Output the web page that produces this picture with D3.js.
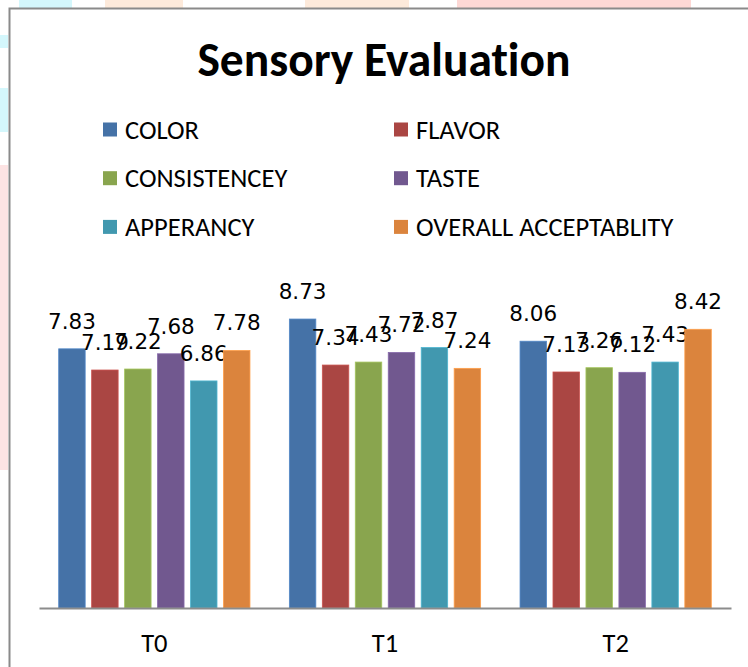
<!DOCTYPE html>
<html>
<head>
<meta charset="utf-8">
<script src="https://cdn.jsdelivr.net/npm/d3@7"></script>
<style>
  body { margin: 0; background: #fff; }
  svg { display: block; }
  text { font-variant-ligatures: none; }
</style>
</head>
<body>
<div id="root"></div>
<script>
const width = 748;
const height = 667;

const groups = ["T0", "T1", "T2"];
const series = ["COLOR", "FLAVOR", "CONSISTENCEY", "TASTE", "APPERANCY", "OVERALL ACCEPTABLITY"];
const colors = ["#4572A7", "#AA4643", "#89A54E", "#71588F", "#4198AF", "#DB843D"];

// one array per treatment, in the order of series
const t0Values = [7.83, 7.19, 7.22, 7.68, 6.86, 7.78];
const t1Values = [8.73, 7.34, 7.43, 7.72, 7.87, 7.24];
const t2Values = [8.06, 7.13, 7.26, 7.12, 7.43, 8.42];

const values = [t0Values, t1Values, t2Values];

const labelFont = "Carlito, Lato, 'Open Sans', sans-serif";

const svg = d3.select("#root").append("svg")
  .attr("width", width)
  .attr("height", height);

svg.append("rect").attr("width", width).attr("height", height).attr("fill", "#fff");

// faint page decoration behind the chart frame
const deco = [
  [19, 0, 53, 8, "#d4f7fc"], [105, 0, 78, 8, "#fdeadb"], [305, 0, 104, 8, "#fdeadb"],
  [457, 0, 234, 8, "#fdd8d5"], [0, 35, 8, 13, "#d4f7fc"], [0, 88, 8, 44, "#d4f7fc"],
  [0, 165, 8, 305, "#fde3e3"]
];
svg.selectAll("rect.deco")
  .data(deco)
  .enter()
  .append("rect")
  .attr("class", "deco")
  .attr("x", d => d[0]).attr("y", d => d[1])
  .attr("width", d => d[2]).attr("height", d => d[3])
  .attr("fill", d => d[4]);

// chart frame (left and top edges visible)
svg.append("path")
  .attr("d", "M9.5,667V8.5H748")
  .attr("fill", "none")
  .attr("stroke", "#8a8a8a")
  .attr("stroke-width", 2);

svg.append("text")
  .attr("x", 384)
  .attr("y", 76)
  .attr("text-anchor", "middle")
  .attr("font-family", labelFont)
  .attr("font-weight", "bold")
  .attr("font-size", "47.5px")
  .attr("fill", "#000")
  .text("Sensory Evaluation");

// legend: two columns, three rows
const legend = svg.append("g").attr("id", "legend");
const legendItems = legend.selectAll("g")
  .data(series)
  .enter()
  .append("g")
  .attr("transform", (d, i) => `translate(${i % 2 === 0 ? 103 : 394},${130 + Math.floor(i / 2) * 48.7})`);

legendItems.append("rect")
  .attr("x", 0)
  .attr("y", -7.5)
  .attr("width", 14)
  .attr("height", 14)
  .attr("fill", (d, i) => colors[i]);

legendItems.append("text")
  .attr("x", 22)
  .attr("y", 8.5)
  .attr("font-family", labelFont)
  .attr("font-size", "26.5px")
  .attr("fill", "#000")
  .text(d => d);

// scales
const x0 = d3.scaleBand()
  .domain(groups)
  .range([39, 731]);

const groupPad = 19.7;
const x1 = d3.scaleBand()
  .domain(series)
  .range([groupPad, x0.bandwidth() - groupPad])
  .paddingInner(0.197);

const y = d3.scaleLinear()
  .domain([0, 10])
  .range([608, 277]);

const color = d3.scaleOrdinal().domain(series).range(colors);

const groupG = svg.selectAll("g.group")
  .data(groups)
  .enter()
  .append("g")
  .attr("class", "group")
  .attr("transform", d => `translate(${x0(d)},0)`);

const cells = groupG.selectAll("g.cell")
  .data((g, gi) => series.map((s, si) => ({ s: s, v: values[gi][si] })))
  .enter()
  .append("g")
  .attr("class", "cell");

cells.append("rect")
  .attr("x", d => x1(d.s))
  .attr("y", d => y(d.v))
  .attr("width", x1.bandwidth())
  .attr("height", d => y(0) - y(d.v))
  .attr("fill", d => color(d.s))
  .attr("stroke", d => d3.color(color(d.s)).brighter(0.5))
  .attr("stroke-width", 0.8);

// value labels sit just above each bar (they overlap in the original too)
cells.append("text")
  .attr("x", d => x1(d.s) + x1.bandwidth() / 2)
  .attr("y", d => y(d.v) - 20)
  .attr("text-anchor", "middle")
  .attr("font-family", "'DejaVu Sans', sans-serif")
  .attr("font-size", "21.5px")
  .attr("fill", "#000")
  .text(d => d.v.toFixed(2));

// category axis
const xAxis = svg.append("g")
  .attr("transform", "translate(0,608)")
  .call(d3.axisBottom(x0).tickSize(0).tickPadding(25));

xAxis.select(".domain")
  .attr("stroke", "#8c8c8c")
  .attr("stroke-width", 2);

xAxis.selectAll("text")
  .attr("font-family", labelFont)
  .attr("font-size", "26.5px")
  .attr("fill", "#000");
</script>
</body>
</html>
